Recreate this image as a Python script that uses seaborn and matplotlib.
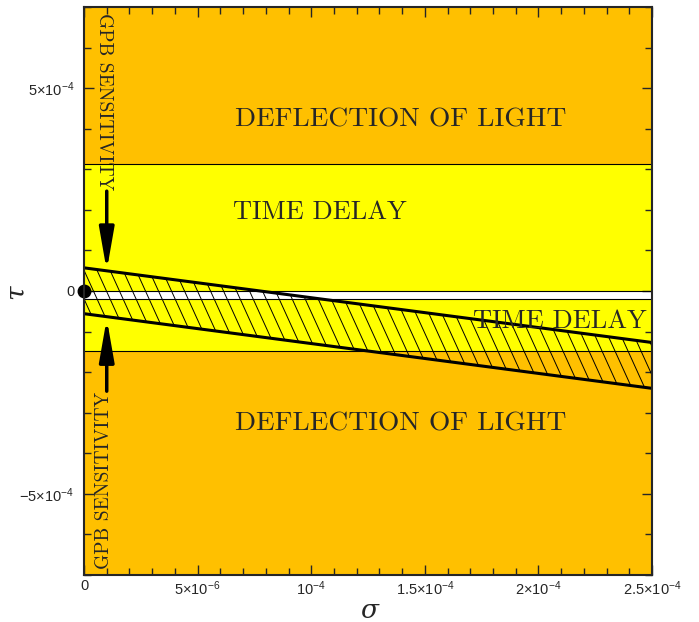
import numpy as np
import pandas as pd
import matplotlib.pyplot as plt
from matplotlib.collections import LineCollection
from matplotlib.ticker import MultipleLocator
import seaborn as sns

# style
sns.set_style('ticks')
plt.rcParams['font.family'] = ['Liberation Sans', 'DejaVu Sans']
plt.rcParams['mathtext.default'] = 'regular'

# --- data ---
sigma_ends = [0.0, 2.5e-4]
upper_bound = [0.57e-4, -1.27e-4]
lower_bound = [-0.56e-4, -2.40e-4]

# horizontal regions (tau)
deflection_top = [3.13e-4, 7e-4]
time_delay_top = [0.0, 3.13e-4]
white_gap = [-0.2e-4, 0.0]
time_delay_bottom = [-1.48e-4, -0.2e-4]
deflection_bottom = [-7e-4, -1.48e-4]

xticks = [0, 5e-5, 1e-4, 1.5e-4, 2e-4, 2.5e-4]
xtick_labels = ['0', r'$5{\times}10^{-6}$', r'$10^{-4}$', r'$1.5{\times}10^{-4}$',
                r'$2{\times}10^{-4}$', r'$2.5{\times}10^{-4}$']
yticks = [-5e-4, 0, 5e-4]
ytick_labels = [r'$-5{\times}10^{-4}$', '0', r'$5{\times}10^{-4}$']

ORANGE = '#FFC000'
YELLOW = '#FFFF00'

df = pd.DataFrame({'sigma': sigma_ends * 2,
                   'tau': upper_bound + lower_bound,
                   'edge': ['upper'] * 2 + ['lower'] * 2})

fig = plt.figure(figsize=(6.99, 6.22), dpi=100)
ax = fig.add_axes([0.1202, 0.0756, 0.8126, 0.9132])

# coloured regions
for (lo, hi), col in [(deflection_top, ORANGE), (time_delay_top, YELLOW),
                      (white_gap, 'white'), (time_delay_bottom, YELLOW),
                      (deflection_bottom, ORANGE)]:
    ax.axhspan(lo, hi, color=col, lw=0, zorder=0)
for y in [deflection_top[0], time_delay_top[0], white_gap[0], time_delay_bottom[0]]:
    ax.axhline(y, color='black', lw=0.8, zorder=1)

# hatched allowed band (steep hatch drawn as clipped lines)
poly = ax.fill_between(sigma_ends, lower_bound, upper_bound, facecolor='none',
                       edgecolor='none', zorder=2)
offs = np.arange(-0.6, 1.1, 0.0229)
segs = [[(x0, 1.0), (x0 + 1 / 2.2, 0.0)] for x0 in offs]
lc = LineCollection(segs, colors='black', linewidths=0.7, transform=ax.transAxes, zorder=2)
ax.add_collection(lc)
lc.set_clip_path(poly.get_paths()[0], ax.transData)

sns.lineplot(data=df, x='sigma', y='tau', units='edge', estimator=None,
             color='black', lw=2.2, ax=ax, zorder=3)

# origin point
ax.plot([0], [0], 'o', color='black', ms=9, clip_on=False, zorder=5)

# region labels
serif = 'cmr10'
ax.text(1.395e-4, 4.23e-4, 'DEFLECTION OF LIGHT', fontsize=19.8, family=serif,
        ha='center', va='center', zorder=4)
ax.text(1.395e-4, -3.26e-4, 'DEFLECTION OF LIGHT', fontsize=19.8, family=serif,
        ha='center', va='center', zorder=4)
ax.text(1.04e-4, 1.95e-4, 'TIME DELAY', fontsize=19, family=serif,
        ha='center', va='center', zorder=4)
ax.text(1.71e-4, -0.75e-4, 'TIME DELAY', fontsize=19, family=serif,
        ha='left', va='center', zorder=4, clip_on=True)

# GPB sensitivity labels and arrows
ax.text(0.88e-5, 4.67e-4, 'GPB SENSITIVITY', fontsize=14, family=serif,
        rotation=-90, ha='center', va='center', zorder=4)
ax.text(0.88e-5, -4.66e-4, 'GPB SENSITIVITY', fontsize=14, family=serif,
        rotation=90, ha='center', va='center', zorder=4)
arrow = dict(arrowstyle='-|>,head_length=1.6,head_width=0.28', mutation_scale=16,
             color='black', lw=2.5, shrinkA=0, shrinkB=0)
ax.annotate('', xy=(1.0e-5, 0.50e-4), xytext=(1.0e-5, 2.46e-4), arrowprops=arrow, zorder=4)
ax.annotate('', xy=(1.0e-5, -0.68e-4), xytext=(1.0e-5, -2.47e-4), arrowprops=arrow, zorder=4)

# axes
ax.set_xlim(0, 2.5e-4)
ax.set_ylim(-7e-4, 7e-4)
ax.set_xticks(xticks)
ax.set_xticklabels(xtick_labels)
ax.set_yticks(yticks)
ax.set_yticklabels(ytick_labels)
ax.xaxis.set_minor_locator(MultipleLocator(1e-5))
ax.yaxis.set_minor_locator(MultipleLocator(1e-4))
ax.tick_params(which='both', direction='in', top=True, right=True, labelsize=10.5, width=1)
ax.tick_params(which='major', length=7)
ax.tick_params(axis='x', which='major', pad=3)
ax.tick_params(axis='y', which='major', pad=7)
ax.tick_params(which='minor', length=5)
for s in ax.spines.values():
    s.set_linewidth(1.5)
    s.set_zorder(6)

ax.set_xlabel('σ', fontsize=19, family='DejaVu Serif', style='italic')
ax.set_ylabel('τ', fontsize=19, family='DejaVu Serif', style='italic')
ax.xaxis.set_label_coords(0.502, -0.062)
ax.xaxis.label.set_va('center')
ax.yaxis.set_label_coords(-0.1215, 0.498)
ax.yaxis.label.set_va('center')
ax.yaxis.label.set_ha('center')

fig.savefig('out.png', dpi=100)
